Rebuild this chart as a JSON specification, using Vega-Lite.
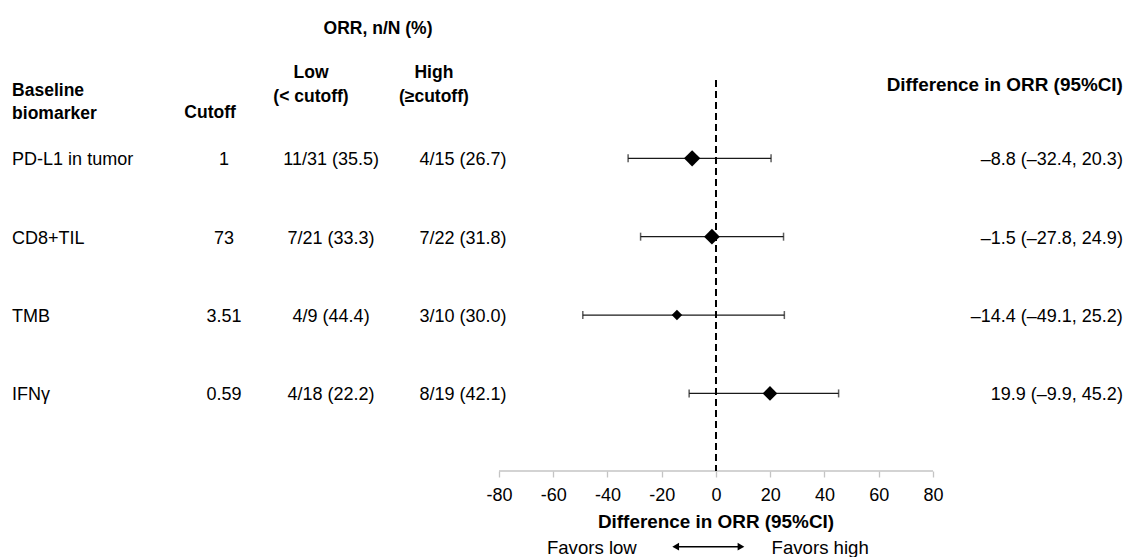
{
  "$schema": "https://vega.github.io/schema/vega-lite/v6.json",
  "width": 1127,
  "height": 471,
  "autosize": {"type": "none"},
  "padding": {"left": 0, "top": 0, "right": 0, "bottom": 86},
  "background": "white",
  "config": {"view": {"stroke": null}, "text": {"font": "Liberation Sans", "fontSize": 18, "color": "#000"}},
  "data": {"values": [
    {"row": 1, "biomarker": "PD-L1 in tumor", "cutoff": "1", "low": "11/31 (35.5)", "high": "4/15 (26.7)", "diff": -8.8, "lo": -32.4, "hi": 20.3, "N": 46, "ci": "–8.8 (–32.4, 20.3)"},
    {"row": 2, "biomarker": "CD8+TIL", "cutoff": "73", "low": "7/21 (33.3)", "high": "7/22 (31.8)", "diff": -1.5, "lo": -27.8, "hi": 24.9, "N": 43, "ci": "–1.5 (–27.8, 24.9)"},
    {"row": 3, "biomarker": "TMB", "cutoff": "3.51", "low": "4/9 (44.4)", "high": "3/10 (30.0)", "diff": -14.4, "lo": -49.1, "hi": 25.2, "N": 19, "ci": "–14.4 (–49.1, 25.2)"},
    {"row": 4, "biomarker": "IFNγ", "cutoff": "0.59", "low": "4/18 (22.2)", "high": "8/19 (42.1)", "diff": 19.9, "lo": -9.9, "hi": 45.2, "N": 37, "ci": "19.9 (–9.9, 45.2)"}
  ]},
  "layer": [
    {
      "mark": {"type": "rule", "color": "#1a1a1a", "strokeWidth": 1.3},
      "encoding": {
        "x": {"field": "lo", "type": "quantitative",
          "scale": {"domain": [-263.96, 151.52], "nice": false, "zero": false},
          "axis": {"values": [-80, -60, -40, -20, 0, 20, 40, 60, 80], "title": null, "domain": false, "grid": false,
            "ticks": true, "tickSize": 6, "tickColor": "#c4c4c4", "tickWidth": 1.3,
            "labelFont": "Liberation Sans", "labelFontSize": 18, "labelColor": "#000", "labelPadding": 9,
            "labelExpr": "toString(datum.value)"}},
        "x2": {"field": "hi"},
        "y": {"field": "row", "type": "quantitative", "scale": {"domain": [-1.02, 4.99], "reverse": true, "nice": false, "zero": false}, "axis": null}
      }
    },
    {
      "data": {"values": [{}]},
      "mark": {"type": "rule", "color": "#c4c4c4", "strokeWidth": 1.3},
      "encoding": {"x": {"datum": -80}, "x2": {"datum": 80}, "y": {"datum": 4.99}}
    },
    {
      "data": {"values": [{}]},
      "mark": {"type": "rule", "color": "#000", "strokeWidth": 2, "strokeDash": [7, 4]},
      "encoding": {"x": {"datum": 0}, "y": {"datum": 0}, "y2": {"datum": 4.99}}
    },
    {
      "mark": {"type": "tick", "orient": "vertical", "color": "#1a1a1a", "size": 8, "thickness": 1.5},
      "encoding": {"x": {"field": "lo", "type": "quantitative"}, "y": {"field": "row", "type": "quantitative"}}
    },
    {
      "mark": {"type": "tick", "orient": "vertical", "color": "#1a1a1a", "size": 8, "thickness": 1.5},
      "encoding": {"x": {"field": "hi", "type": "quantitative"}, "y": {"field": "row", "type": "quantitative"}}
    },
    {
      "mark": {"type": "point", "shape": "diamond", "filled": true, "color": "#000", "opacity": 1},
      "encoding": {
        "x": {"field": "diff", "type": "quantitative"},
        "y": {"field": "row", "type": "quantitative"},
        "size": {"field": "N", "type": "quantitative", "scale": {"domain": [0, 46], "range": [0, 266], "zero": true}, "legend": null}
      }
    },
    {
      "mark": {"type": "text", "align": "left", "baseline": "middle", "dy": 2},
      "encoding": {"x": {"datum": -259.5}, "y": {"field": "row", "type": "quantitative"}, "text": {"field": "biomarker"}}
    },
    {
      "mark": {"type": "text", "align": "center", "baseline": "middle", "dy": 2},
      "encoding": {"x": {"datum": -181.4}, "y": {"field": "row", "type": "quantitative"}, "text": {"field": "cutoff"}}
    },
    {
      "mark": {"type": "text", "align": "center", "baseline": "middle", "dy": 2},
      "encoding": {"x": {"datum": -141.9}, "y": {"field": "row", "type": "quantitative"}, "text": {"field": "low"}}
    },
    {
      "mark": {"type": "text", "align": "center", "baseline": "middle", "dy": 2},
      "encoding": {"x": {"datum": -93.3}, "y": {"field": "row", "type": "quantitative"}, "text": {"field": "high"}}
    },
    {
      "mark": {"type": "text", "align": "right", "baseline": "middle", "dy": 2},
      "encoding": {"x": {"datum": 150.0}, "y": {"field": "row", "type": "quantitative"}, "text": {"field": "ci"}}
    },
    {
      "data": {"values": [{}]},
      "mark": {"type": "text", "align": "center", "baseline": "middle", "fontWeight": "bold", "fontSize": 17.5, "text": "ORR, n/N (%)"},
      "encoding": {"x": {"datum": -124.6}, "y": {"datum": -0.651}}
    },
    {
      "data": {"values": [{}]},
      "mark": {"type": "text", "align": "left", "baseline": "middle", "fontWeight": "bold", "fontSize": 17.5, "lineHeight": 23, "text": ["Baseline", "biomarker"]},
      "encoding": {"x": {"datum": -259.5}, "y": {"datum": 0.137}}
    },
    {
      "data": {"values": [{}]},
      "mark": {"type": "text", "align": "center", "baseline": "middle", "fontWeight": "bold", "fontSize": 17.5, "text": "Cutoff"},
      "encoding": {"x": {"datum": -186.5}, "y": {"datum": 0.422}}
    },
    {
      "data": {"values": [{}]},
      "mark": {"type": "text", "align": "center", "baseline": "middle", "fontWeight": "bold", "fontSize": 17.5, "lineHeight": 24, "text": ["Low", "(< cutoff)"]},
      "encoding": {"x": {"datum": -149.3}, "y": {"datum": -0.092}}
    },
    {
      "data": {"values": [{}]},
      "mark": {"type": "text", "align": "center", "baseline": "middle", "fontWeight": "bold", "fontSize": 17.5, "lineHeight": 24, "text": ["High", "(≥cutoff)"]},
      "encoding": {"x": {"datum": -104.0}, "y": {"datum": -0.092}}
    },
    {
      "data": {"values": [{}]},
      "mark": {"type": "text", "align": "right", "baseline": "middle", "fontWeight": "bold", "fontSize": 18.9, "text": "Difference in ORR (95%CI)"},
      "encoding": {"x": {"datum": 150.0}, "y": {"datum": 0.067}}
    },
    {
      "data": {"values": [{}]},
      "mark": {"type": "text", "align": "center", "baseline": "middle", "fontWeight": "bold", "fontSize": 18.9, "text": "Difference in ORR (95%CI)"},
      "encoding": {"x": {"datum": 0}, "y": {"datum": 5.646}}
    },
    {
      "data": {"values": [{}]},
      "mark": {"type": "text", "align": "right", "baseline": "middle", "fontSize": 18.6, "text": "Favors low"},
      "encoding": {"x": {"datum": -29.2}, "y": {"datum": 5.971}}
    },
    {
      "data": {"values": [{}]},
      "mark": {"type": "text", "align": "left", "baseline": "middle", "fontSize": 18.6, "text": "Favors high"},
      "encoding": {"x": {"datum": 20.5}, "y": {"datum": 5.971}}
    },
    {
      "data": {"values": [{}]},
      "mark": {"type": "rule", "color": "#000", "strokeWidth": 1.5},
      "encoding": {"x": {"datum": -14.0}, "x2": {"datum": 8.5}, "y": {"datum": 5.956}}
    },
    {
      "data": {"values": [{}]},
      "mark": {"type": "point", "shape": "triangle-left", "filled": true, "color": "#000", "opacity": 1, "size": 60},
      "encoding": {"x": {"datum": -14.86}, "y": {"datum": 5.956}}
    },
    {
      "data": {"values": [{}]},
      "mark": {"type": "point", "shape": "triangle-right", "filled": true, "color": "#000", "opacity": 1, "size": 60},
      "encoding": {"x": {"datum": 9.2}, "y": {"datum": 5.956}}
    }
  ]
}
